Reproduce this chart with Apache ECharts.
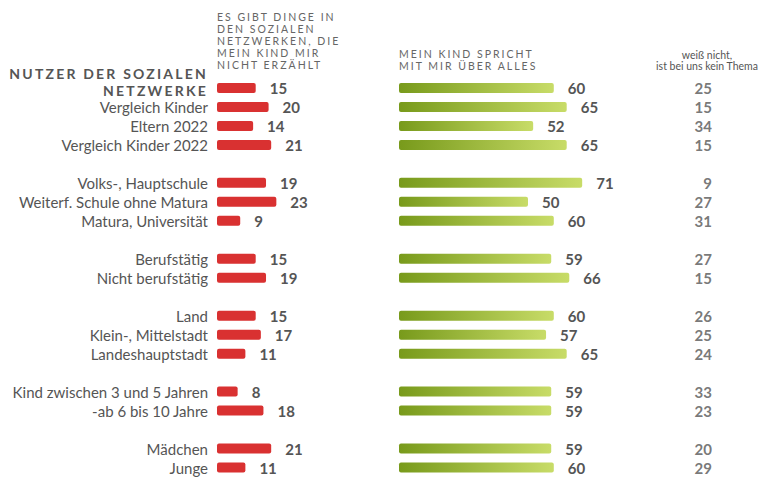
<!DOCTYPE html>
<html><head><meta charset="utf-8">
<script src="https://cdn.jsdelivr.net/npm/echarts@6/dist/echarts.min.js"></script>
<style>html,body{margin:0;padding:0;background:#fff}#c{width:761px;height:477px}</style>
</head><body><div id="c"></div>
<script>
const categories = ['NUTZER DER SOZIALEN\nNETZWERKE','Vergleich Kinder','Eltern 2022','Vergleich Kinder 2022','',
  'Volks-, Hauptschule','Weiterf. Schule ohne Matura','Matura, Universität','',
  'Berufstätig','Nicht berufstätig','',
  'Land','Klein-, Mittelstadt','Landeshauptstadt','',
  'Kind zwischen 3 und 5 Jahren','-ab 6 bis 10 Jahre','',
  'Mädchen','Junge'];
const notTold  = [15,20,14,21,null,19,23,9,null,15,19,null,15,17,11,null,8,18,null,21,11];
const talksAll = [60,65,52,65,null,71,50,60,null,59,66,null,60,57,65,null,59,59,null,59,60];
const dontKnow = [25,15,34,15,null,9,27,31,null,27,15,null,26,25,24,null,33,23,null,20,29];
const header1 = 'ES GIBT DINGE IN\nDEN SOZIALEN\nNETZWERKEN, DIE\nMEIN KIND MIR\nNICHT ERZÄHLT';
const header2 = 'MEIN KIND SPRICHT\nMIT MIR ÜBER ALLES';
const header3 = 'weiß nicht,\nist bei uns kein Thema';

const FONT = 'Lato';
const TXT = '#555';
const gridTop = 78.5, gridH = 401;
const grids = [
  {left:217, top:gridTop, width:258, height:gridH},
  {left:399, top:gridTop, width:258, height:gridH},
  {left:600, top:gridTop, width:112, height:gridH}
];
const yAxes = grids.map((g,i)=>({
  type:'category', gridIndex:i, inverse:true, data:categories,
  axisLine:{show:false}, axisTick:{show:false}, splitLine:{show:false},
  axisLabel:{show:i===0, interval:0, hideOverlap:false, margin:9, fontFamily:FONT, fontSize:15, color:TXT, align:'right',
    formatter:(v,idx)=> idx===0 ? v.split('\n').map(s=>'{t|'+s+'}').join('\n')+'\n{b| }' : v,
    rich:{t:{fontFamily:FONT, fontWeight:'bold', fontSize:14, lineHeight:17, color:TXT, align:'right'},
          b:{fontSize:1, lineHeight:11}}}
}));
const xAxes = [
  {type:'value', gridIndex:0, min:0, max:100, show:false},
  {type:'value', gridIndex:1, min:0, max:100, show:false},
  {type:'value', gridIndex:2, min:0, max:1, show:false}
];
const valLabel = {show:true, position:'right', distance:14, fontFamily:FONT, fontSize:15, fontWeight:'bold', color:TXT};
const option = {
  animation:false,
  grid:grids, xAxis:xAxes, yAxis:yAxes,
  graphic:[
    {type:'text', x:217, y:40.75, style:{text:header1, fontFamily:FONT, fontSize:10.5, lineHeight:11.9, fill:'#666', align:'left', verticalAlign:'middle'}},
    {type:'text', x:399, y:59.9, style:{text:header2, fontFamily:FONT, fontSize:10.5, lineHeight:11.7, fill:'#666', align:'left', verticalAlign:'middle'}},
    {type:'text', x:707, y:60.5, style:{text:header3, fontFamily:FONT, fontSize:10.5, lineHeight:11.5, fill:'#555', align:'center', verticalAlign:'middle'}}
  ],
  series:[
    {type:'bar', xAxisIndex:0, yAxisIndex:0, data:notTold, barWidth:10,
     itemStyle:{color:'#d93131', borderRadius:2}, label:valLabel},
    {type:'bar', xAxisIndex:1, yAxisIndex:1, data:talksAll, barWidth:10,
     itemStyle:{borderRadius:2, color:new echarts.graphic.LinearGradient(0,0,1,0,[{offset:0,color:'#789a1b'},{offset:1,color:'#c8dc68'}])},
     label:valLabel},
    {type:'scatter', xAxisIndex:2, yAxisIndex:2, symbolSize:0,
     data:dontKnow.map((v,i)=> v==null ? null : [1,i,v]),
     label:{show:true, position:'left', distance:0, align:'right', fontFamily:FONT, fontSize:15, fontWeight:'bold', color:TXT,
       formatter:p=>String(p.value[2])}}
  ]
};
const chart = echarts.init(document.getElementById('c'), null, {renderer:'svg'});
chart.setOption(option);
const spaced = {};
header1.split('\n').concat(header2.split('\n')).forEach(s=>spaced[s]='2px');
spaced['NUTZER DER SOZIALEN']='2.2px'; spaced['NETZWERKE']='2.2px';
function applySpacing(){
  document.querySelectorAll('#c svg text').forEach(t=>{
    const s = t.textContent;
    if (spaced[s]) t.setAttribute('letter-spacing', spaced[s]);
  });
}
applySpacing();
chart.on('finished', applySpacing);
</script></body></html>
